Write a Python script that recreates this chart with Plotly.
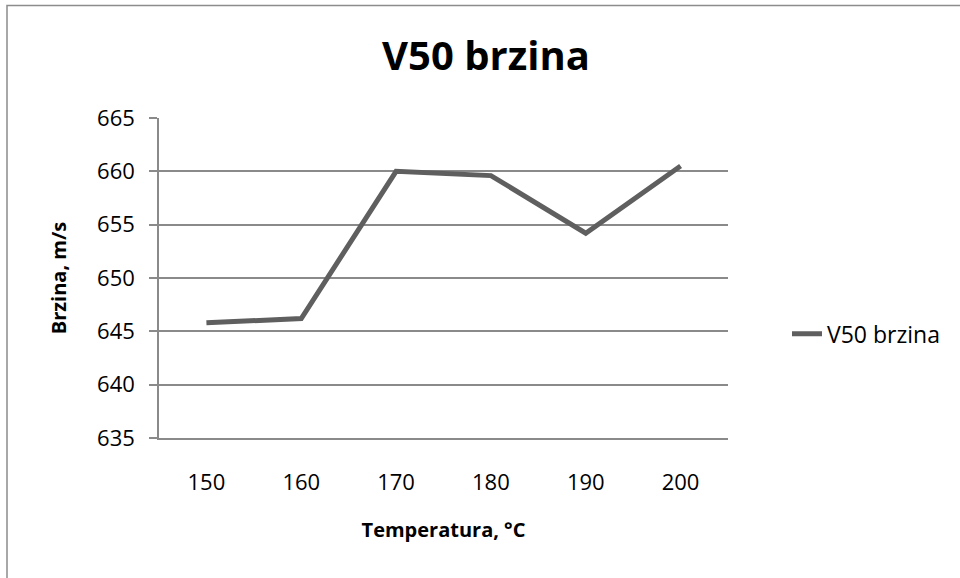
import plotly.graph_objects as go

temperatures = ["150", "160", "170", "180", "190", "200"]
v50_speed = [645.8, 646.2, 660.0, 659.6, 654.2, 660.5]
y_ticks = [635, 640, 645, 650, 655, 660, 665]

series_name = "V50 brzina"
chart_title = "V50 brzina"
x_title = "Temperatura, °C"
y_title = "Brzina, m/s"

FONT = "Open Sans"
GRID = "#8a8a8a"
LINE = "#5f5f5f"

fig = go.Figure()
fig.add_trace(go.Scatter(
    x=temperatures, y=v50_speed, mode="lines", name=series_name,
    line=dict(color=LINE, width=5),
))

W, H = 960, 578
L, R = 159, 728
T, B = 117.7, 438.3

fig.update_layout(
    width=W, height=H,
    margin=dict(l=L, r=W - R, t=T, b=H - B),
    paper_bgcolor="white", plot_bgcolor="white",
    font=dict(family=FONT, color="black", size=22),
    title=dict(text=chart_title, x=486 / W, xref="container", xanchor="center",
               y=1 - 56 / H, yref="container", yanchor="middle",
               font=dict(family=FONT, size=40, color="black", weight="bold")),
    showlegend=True,
    legend=dict(x=(787 - L) / (R - L), xanchor="left", y=(B - 334) / (B - T), yanchor="middle",
                font=dict(family=FONT, size=23, color="black"), bgcolor="rgba(0,0,0,0)"),
    xaxis=dict(type="category", range=[-0.5, 5.5], showgrid=False,
               showline=True, linecolor=GRID, linewidth=1.5, ticks="",
               ticklabelstandoff=24, tickfont=dict(size=22),
               title=dict(text=x_title, standoff=28,
                          font=dict(family=FONT, size=20, weight="bold"))),
    yaxis=dict(range=[635, 665], tickvals=y_ticks, showgrid=True, gridcolor=GRID, gridwidth=1.5,
               showline=True, linecolor=GRID, linewidth=1.5, ticks="outside",
               ticklen=8, tickcolor=GRID, tickwidth=1.5, ticklabelstandoff=10,
               tickfont=dict(size=22), zeroline=False,
               title=dict(text=y_title, standoff=25,
                          font=dict(family=FONT, size=20, weight="bold"))),
    shapes=[dict(type="rect", xref="paper", yref="paper",
                 x0=(7 - L) / (R - L), x1=(970 - L) / (R - L),
                 y0=(B - 590) / (B - T), y1=(B - 5) / (B - T),
                 line=dict(color="#8c8c8c", width=1.5), fillcolor="rgba(0,0,0,0)", layer="below")],
)

fig.write_html("out.html", config={"displayModeBar": False},
               post_script="document.body.style.margin='0';document.body.style.overflow='hidden';")
